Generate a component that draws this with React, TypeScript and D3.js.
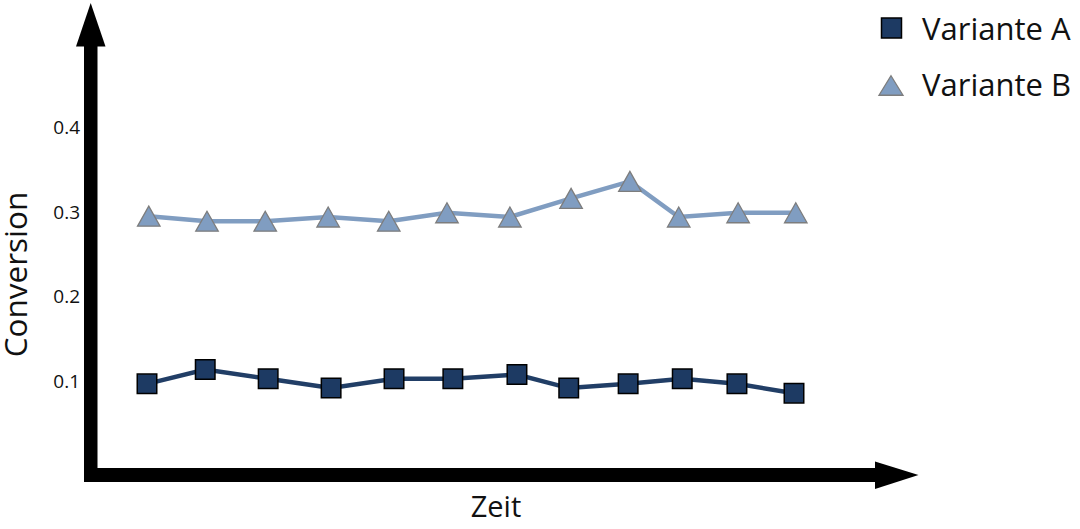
import React from "react";
import * as d3 from "d3";

const seriesNames = ["Variante A", "Variante B"];
const timeA = [1.0, 1.99, 3.06, 4.13, 5.2, 6.2, 7.29, 8.17, 9.18, 10.1, 11.03, 12.0];
const valuesA = [0.097, 0.114, 0.103, 0.092, 0.103, 0.103, 0.108, 0.092, 0.097, 0.103, 0.097, 0.086];
const timeB = [1.03, 2.02, 3.01, 4.08, 5.11, 6.1, 7.17, 8.21, 9.21, 10.04, 11.05, 12.03];
const valuesB = [0.295, 0.289, 0.289, 0.294, 0.289, 0.299, 0.294, 0.316, 0.336, 0.294, 0.299, 0.299];
const yTicks = [0.1, 0.2, 0.3, 0.4];
const yTitle = "Conversion";
const xTitle = "Zeit";

const W = 1080;
const H = 529;
const FONT = "'Open Sans', 'Noto Sans', sans-serif";
const colorA = "#1d3a63";
const lineA = "#213e66";
const colorB = "#809dc1";
const strokeB = "#7d7d7d";

const x = d3.scaleLinear().domain([1, 12]).range([147, 794]);
const y = d3.scaleLinear().domain([0, 0.5]).range([466, 42.5]);

function squarePath(cx: number, cy: number, s: number) {
  const h = s / 2;
  return `M${cx - h},${cy - h}H${cx + h}V${cy + h}H${cx - h}Z`;
}
function triPath(cx: number, cy: number, w: number, h: number) {
  return `M${cx},${cy - h / 2}L${cx + w / 2},${cy + h / 2}L${cx - w / 2},${cy + h / 2}Z`;
}

export default function App() {
  const ptsA = timeA.map((t, i) => [x(t), y(valuesA[i])] as [number, number]);
  const ptsB = timeB.map((t, i) => [x(t), y(valuesB[i])] as [number, number]);
  const line = d3.line<[number, number]>();

  return (
    <svg
      width={W}
      height={H}
      style={{ position: "absolute", left: 0, top: 0, background: "#fff" }}
      fontFamily={FONT}
    >
      {/* axes */}
      <rect x={84} y={44} width={13.5} height={438} fill="#000" />
      <polygon points="90.7,3 105.5,46.5 76,46.5" fill="#000" />
      <rect x={84} y={468} width={794} height={14} fill="#000" />
      <polygon points="918.5,475 875,461.5 875,489" fill="#000" />

      {/* y tick labels */}
      {yTicks.map((t) => (
        <text
          key={t}
          x={80}
          y={y(t)}
          dy="0.36em"
          textAnchor="end"
          fontSize={19}
          fill="#111"
        >
          {t.toFixed(1)}
        </text>
      ))}

      {/* axis titles */}
      <text
        transform={`translate(27,274.5) rotate(-90)`}
        textAnchor="middle"
        fontSize={31.5}
        fill="#111"
      >
        {yTitle}
      </text>
      <text x={496} y={517} textAnchor="middle" fontSize={29} fill="#111">
        {xTitle}
      </text>

      {/* series B */}
      <path d={line(ptsB) || ""} fill="none" stroke={colorB} strokeWidth={4.5} strokeLinejoin="miter" />
      {ptsB.map(([px, py], i) => (
        <path key={"b" + i} d={triPath(px, py, 22.5, 20)} fill={colorB} stroke={strokeB} strokeWidth={1.3} />
      ))}

      {/* series A */}
      <path d={line(ptsA) || ""} fill="none" stroke={lineA} strokeWidth={4.5} strokeLinejoin="miter" />
      {ptsA.map(([px, py], i) => (
        <path key={"a" + i} d={squarePath(px, py, 19.5)} fill={colorA} stroke="#000" strokeWidth={1.5} />
      ))}

      {/* legend */}
      <path d={squarePath(891.5, 28, 20)} fill={colorA} stroke="#000" strokeWidth={1.5} />
      <text x={922} y={39.5} fontSize={31} fill="#111">
        {seriesNames[0]}
      </text>
      <path d={triPath(891, 85.5, 24, 19.5)} fill={colorB} stroke={strokeB} strokeWidth={1.3} />
      <text x={922} y={95.5} fontSize={31} fill="#111">
        {seriesNames[1]}
      </text>
    </svg>
  );
}
